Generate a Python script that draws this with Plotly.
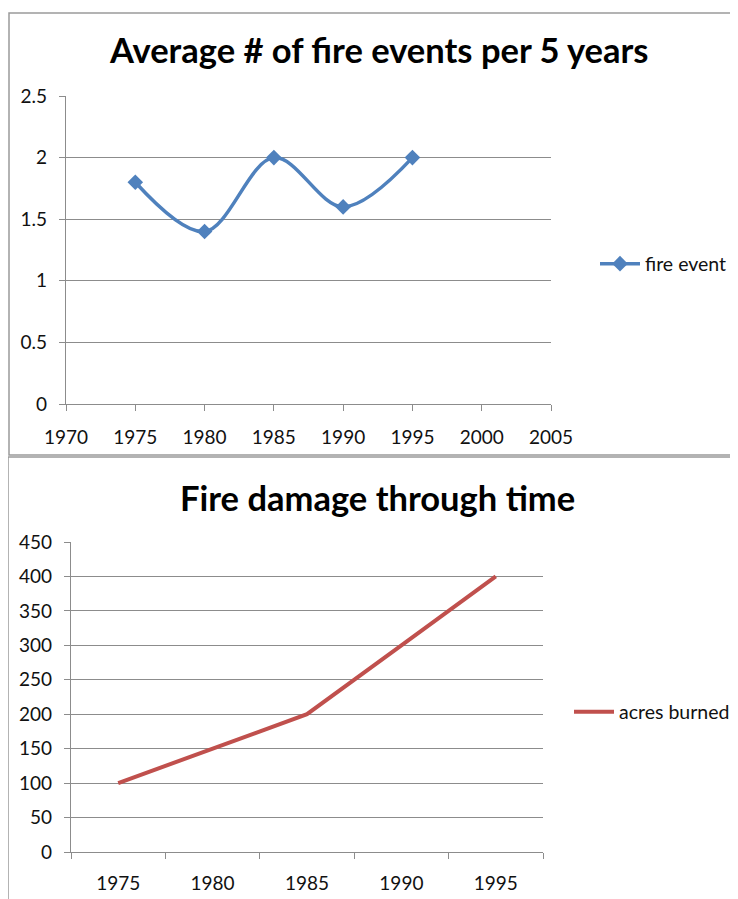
import plotly.graph_objects as go

# Data
event_years = [1975, 1980, 1985, 1990, 1995]
fire_events = [1.8, 1.4, 2.0, 1.6, 2.0]
damage_years = ["1975", "1980", "1985", "1990", "1995"]
acres_burned = [100, 150, 200, 300, 400]

W, H = 738, 899
OFF = 8  # page body margin offset
BLUE = "#4F81BD"
RED = "#C0504D"
GRID = "#8C8C8C"
FONT = "Lato, Open Sans, sans-serif"

def px(x):
    return (x - OFF) / W

def py(y):
    return 1 - (y - OFF) / H

fig = go.Figure()

fig.add_trace(go.Scatter(
    x=event_years, y=fire_events, name="fire event", showlegend=True,
    mode="lines+markers", line=dict(color=BLUE, width=3.5, shape="spline", smoothing=1),
    marker=dict(symbol="diamond", size=12, color=BLUE),
    xaxis="x", yaxis="y", legend="legend",
))
fig.add_trace(go.Scatter(
    x=damage_years, y=acres_burned, name="acres burned", showlegend=True,
    mode="lines", line=dict(color=RED, width=4),
    xaxis="x2", yaxis="y2", legend="legend2",
))

axis_common = dict(
    showline=True, linecolor=GRID, linewidth=1.2,
    ticks="outside", ticklen=6, tickcolor=GRID,
    tickfont=dict(family=FONT, size=19, color="#111111"),
    zeroline=False,
)

fig.update_layout(
    width=W, height=H,
    margin=dict(l=0, r=0, t=0, b=0, autoexpand=False),
    paper_bgcolor="white", plot_bgcolor="white",
    font=dict(family=FONT),
    showlegend=True,
    xaxis=dict(domain=[px(66), px(551)], range=[1970, 2005], dtick=5, tick0=1970,
               showgrid=False, anchor="y", ticklabelstandoff=10, **axis_common),
    yaxis=dict(domain=[py(404), py(96)], range=[0, 2.5], dtick=0.5,
               showgrid=True, gridcolor=GRID, gridwidth=1.2, anchor="x",
               ticklabelstandoff=8, **axis_common),
    xaxis2=dict(domain=[px(71), px(543)], type="category", tickson="boundaries",
                range=[-0.5, 4.5], showgrid=False, anchor="y2", ticklabelstandoff=14,
                **axis_common),
    yaxis2=dict(domain=[py(852), py(542)], range=[0, 450], dtick=50,
                showgrid=True, gridcolor=GRID, gridwidth=1.2, anchor="x2",
                ticklabelstandoff=8, **axis_common),
    legend=dict(x=px(595), y=py(264), xanchor="left", yanchor="middle",
                font=dict(family=FONT, size=19.5, color="#111111"),
                bgcolor="rgba(0,0,0,0)", itemwidth=40),
    legend2=dict(x=px(569), y=py(712), xanchor="left", yanchor="middle",
                 font=dict(family=FONT, size=19.5, color="#111111"),
                 bgcolor="rgba(0,0,0,0)", itemwidth=40),
    annotations=[
        dict(text="<b>Average # of fire events per 5 years</b>", x=px(379), y=py(49),
             xref="paper", yref="paper", xanchor="center", yanchor="middle",
             showarrow=False, font=dict(family=FONT, size=34.5, color="black")),
        dict(text="<b>Fire damage through time</b>", x=px(378), y=py(497),
             xref="paper", yref="paper", xanchor="center", yanchor="middle",
             showarrow=False, font=dict(family=FONT, size=34.5, color="black")),
    ],
    shapes=[
        dict(type="rect", xref="paper", yref="paper", x0=px(9), x1=px(760),
             y0=py(455), y1=py(13), line=dict(color="#9a9a9a", width=1.5)),
        dict(type="rect", xref="paper", yref="paper", x0=px(8), x1=px(760),
             y0=py(920), y1=py(457), line=dict(color="#9a9a9a", width=1.5)),
    ],
)

fig.write_html("out.html")
